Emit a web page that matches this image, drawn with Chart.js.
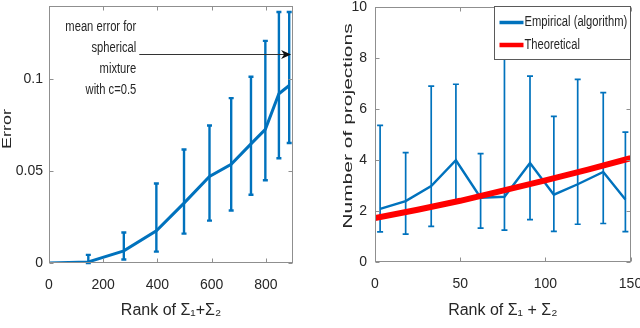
<!DOCTYPE html>
<html><head><meta charset="utf-8">
<script src="https://cdn.jsdelivr.net/npm/chart.js@4.4.1/dist/chart.umd.min.js"></script>
<style>
html,body{margin:0;padding:0;background:#fff;}
#wrap{position:relative;width:640px;height:328px;overflow:hidden;}
canvas{position:absolute;top:0;}
</style></head><body>
<div id="wrap">
<canvas id="c1" width="320" height="328" style="left:0;width:320px;height:328px"></canvas>
<canvas id="c2" width="320" height="328" style="left:320px;width:320px;height:328px"></canvas>
</div>
<script>
// ---------- Left panel data ----------
const rankLeft  = [0, 145, 276, 396, 498, 592, 672, 745, 798, 848, 886];
const errMean   = [0, 0.0006, 0.0066, 0.0176, 0.0326, 0.0472, 0.0538, 0.0649, 0.0728, 0.0922, 0.0967];
const errHigh   = [0, 0.0044, 0.0166, 0.0433, 0.0618, 0.0749, 0.0898, 0.1015, 0.1210, 0.1367, 0.1367];
const errLow    = [0, 0.0000, 0.0019, 0.0062, 0.0160, 0.0231, 0.0286, 0.0372, 0.0451, 0.0571, 0.0654];
const leftXTicks = [0, 200, 400, 600, 800];
const leftYTicks = [0, 0.05, 0.1];
const annotationLines = ['mean error for', 'spherical', 'mixture', 'with c=0.5'];

// ---------- Right panel data ----------
const rankRight = [3, 18, 33, 47.5, 62, 76, 91, 105, 119, 134, 147];
const projMean  = [2.08, 2.39, 2.98, 3.99, 2.52, 2.56, 3.88, 2.64, 3.05, 3.53, 2.45];
const projHigh  = [5.36, 4.29, 6.90, 6.97, 4.25, 8.80, 7.29, 5.71, 7.16, 6.64, 5.09];
const projLow   = [1.18, 1.09, 1.40, 2.34, 1.33, 1.25, 1.66, 1.20, 1.48, 1.51, 1.19];
const theoryRank = [0, 25, 50, 75, 100, 125, 150];
const theoryProj = [1.72, 2.05, 2.40, 2.80, 3.20, 3.62, 4.07];
const rightXTicks = [0, 50, 100, 150];
const rightYTicks = [0, 2, 4, 6, 8, 10];

const FONT = '"Liberation Sans", Arial, Helvetica, sans-serif';
const TXT = '#262626';
const BLUE = '#0072BD';
const RED = '#FF0000';

function errorBars(xs, lo, hi, width, cap) {
  return { id: 'errbars', beforeDatasetsDraw(chart) {
    const { ctx, scales: { x, y } } = chart;
    ctx.save();
    ctx.strokeStyle = BLUE; ctx.lineWidth = width; ctx.lineCap = 'butt';
    xs.forEach((xv, i) => {
      if (hi[i] - lo[i] <= 0) return;
      const px = x.getPixelForValue(xv), pl = y.getPixelForValue(lo[i]), ph = y.getPixelForValue(hi[i]);
      ctx.beginPath(); ctx.moveTo(px, pl); ctx.lineTo(px, ph); ctx.stroke();
      ctx.beginPath();
      ctx.moveTo(px - cap, pl); ctx.lineTo(px + cap, pl);
      ctx.moveTo(px - cap, ph); ctx.lineTo(px + cap, ph);
      ctx.stroke();
    });
    ctx.restore();
  }};
}

function frame(xTicks, yTicks) {
  return { id: 'frame', afterDatasetsDraw(chart) {
    const { ctx, chartArea: a, scales: { x, y } } = chart;
    const L = Math.round(a.left) + 0.5, R = Math.round(a.right) - 0.5,
          T = Math.round(a.top) + 0.5, B = Math.round(a.bottom) - 0.5;
    ctx.save();
    ctx.strokeStyle = '#8f8f8f'; ctx.lineWidth = 1;
    ctx.strokeRect(L, T, R - L, B - T);
    ctx.beginPath();
    xTicks.forEach(v => {
      const p = Math.round(x.getPixelForValue(v)) + 0.5;
      ctx.moveTo(p, B); ctx.lineTo(p, B - 4);
      ctx.moveTo(p, T); ctx.lineTo(p, T + 4);
    });
    yTicks.forEach(v => {
      const p = Math.round(y.getPixelForValue(v)) + 0.5;
      ctx.moveTo(L, p); ctx.lineTo(L + 4, p);
      ctx.moveTo(R, p); ctx.lineTo(R - 4, p);
    });
    ctx.stroke();
    ctx.restore();
  }};
}

function yTitle(text, cx, cy, size, squeeze) {
  return { id: 'ytitle', afterDraw(chart) {
    const ctx = chart.ctx;
    ctx.save();
    ctx.translate(cx, cy); ctx.rotate(-Math.PI / 2); ctx.scale(1, squeeze);
    ctx.font = size + 'px ' + FONT; ctx.fillStyle = TXT;
    ctx.textAlign = 'center'; ctx.textBaseline = 'middle';
    ctx.fillText(text, 0, 0);
    ctx.restore();
  }};
}

const annotation = { id: 'annot', afterDraw(chart) {
  const { ctx, scales: { x, y } } = chart;
  const x0 = x.getPixelForValue(333), x1 = x.getPixelForValue(893);
  const py = Math.round(y.getPixelForValue(0.1137)) + 0.5;
  ctx.save();
  ctx.strokeStyle = '#333'; ctx.fillStyle = '#111'; ctx.lineWidth = 1;
  ctx.beginPath(); ctx.moveTo(x0, py); ctx.lineTo(x1 - 6, py); ctx.stroke();
  ctx.beginPath();
  ctx.moveTo(x1, py); ctx.lineTo(x1 - 10, py - 4.5); ctx.lineTo(x1 - 7, py); ctx.lineTo(x1 - 10, py + 4.5);
  ctx.closePath(); ctx.fill();
  ctx.translate(x0 - 3, py); ctx.scale(0.8, 1);
  ctx.font = '14px ' + FONT; ctx.fillStyle = TXT; ctx.textAlign = 'right'; ctx.textBaseline = 'alphabetic';
  const offs = [-23.5, -3, 18, 39];
  annotationLines.forEach((t, i) => ctx.fillText(t, 0, offs[i]));
  ctx.restore();
}};

const legendBox = { id: 'legbox', afterDraw(chart) {
  const { ctx, chartArea: a } = chart;
  const R = Math.round(a.right) - 0.5, T = Math.round(a.top) - 0.5, W = 136, H = 53;
  const L = R - W;
  ctx.save();
  ctx.fillStyle = '#fff'; ctx.fillRect(L, T, W, H);
  ctx.strokeStyle = '#5a5a5a'; ctx.lineWidth = 1; ctx.strokeRect(L, T, W, H);
  const ys = [T + 16, T + 38.5];
  const order = [1, 0];
  order.forEach((di, k) => {
    const ds = chart.data.datasets[di];
    ctx.strokeStyle = ds.borderColor; ctx.lineWidth = di === 1 ? 3.5 : 4.5;
    ctx.beginPath(); ctx.moveTo(L + 5, ys[k]); ctx.lineTo(L + 29, ys[k]); ctx.stroke();
    ctx.save();
    ctx.translate(L + 30, ys[k]); ctx.scale(0.8, 1);
    ctx.font = '14px ' + FONT; ctx.fillStyle = TXT; ctx.textAlign = 'left'; ctx.textBaseline = 'middle';
    ctx.fillText(ds.label, 0, 0);
    ctx.restore();
  });
  ctx.restore();
}};

function axisOpts(min, max, ticksArr, fitKey, fitVal, pad, title) {
  const o = {
    type: 'linear', min: min, max: max,
    grid: { display: false, drawTicks: false }, border: { display: false },
    afterBuildTicks: s => { s.ticks = ticksArr.map(v => ({ value: v })); },
    afterFit: s => {
      s[fitKey] = fitVal;
      s.paddingTop = 0; s.paddingBottom = 0; s.paddingLeft = 0; s.paddingRight = 0;
    },
    ticks: { font: { family: FONT, size: 14 }, color: TXT, padding: pad, autoSkip: false, maxRotation: 0,
             callback: v => String(v) }
  };
  if (title) o.title = { display: true, text: title, color: TXT, font: { family: FONT, size: 16 }, padding: { top: 0, bottom: 7.5 } };
  return o;
}

Chart.defaults.font.family = FONT;

new Chart(document.getElementById('c1'), {
  type: 'line',
  data: { datasets: [{
    label: 'Error',
    data: rankLeft.map((r, i) => ({ x: r, y: errMean[i] })),
    borderColor: BLUE, borderWidth: 3, pointRadius: 0, tension: 0, fill: false
  }]},
  options: {
    responsive: false, animation: false, events: [],
    layout: { autoPadding: false, padding: { left: 0, right: 27, top: 6, bottom: 0 } },
    plugins: { legend: { display: false }, tooltip: { enabled: false } },
    scales: {
      x: axisOpts(0, 900, leftXTicks, 'height', 65, 14, 'Rank of Σ₁+Σ₂'),
      y: axisOpts(0, 0.14, leftYTicks, 'width', 49, 6, null)
    }
  },
  plugins: [errorBars(rankLeft, errLow, errHigh, 2.4, 2.5), frame(leftXTicks, leftYTicks),
            yTitle('Error', 8, 129, 18, 0.7), annotation]
});

new Chart(document.getElementById('c2'), {
  type: 'line',
  data: { datasets: [
    { label: 'Theoretical', order: 0,
      data: theoryRank.map((r, i) => ({ x: r, y: theoryProj[i] })),
      borderColor: RED, borderWidth: 6, pointRadius: 0, tension: 0, fill: false },
    { label: 'Empirical (algorithm)', order: 1,
      data: rankRight.map((r, i) => ({ x: r, y: projMean[i] })),
      borderColor: BLUE, borderWidth: 2.4, pointRadius: 0, tension: 0, fill: false }
  ]},
  options: {
    responsive: false, animation: false, events: [],
    layout: { autoPadding: false, padding: { left: 0, right: 9.5, top: 7, bottom: 0 } },
    plugins: { legend: { display: false }, tooltip: { enabled: false } },
    scales: {
      x: axisOpts(0, 150, rightXTicks, 'height', 66, 14, 'Rank of Σ₁ + Σ₂'),
      y: axisOpts(0, 10, rightYTicks, 'width', 55, 8, null)
    }
  },
  plugins: [errorBars(rankRight, projLow, projHigh, 1.7, 3), frame(rightXTicks, rightYTicks),
            yTitle('Number of projections', 28, 126, 21, 0.62), legendBox]
});
</script>
</body></html>
